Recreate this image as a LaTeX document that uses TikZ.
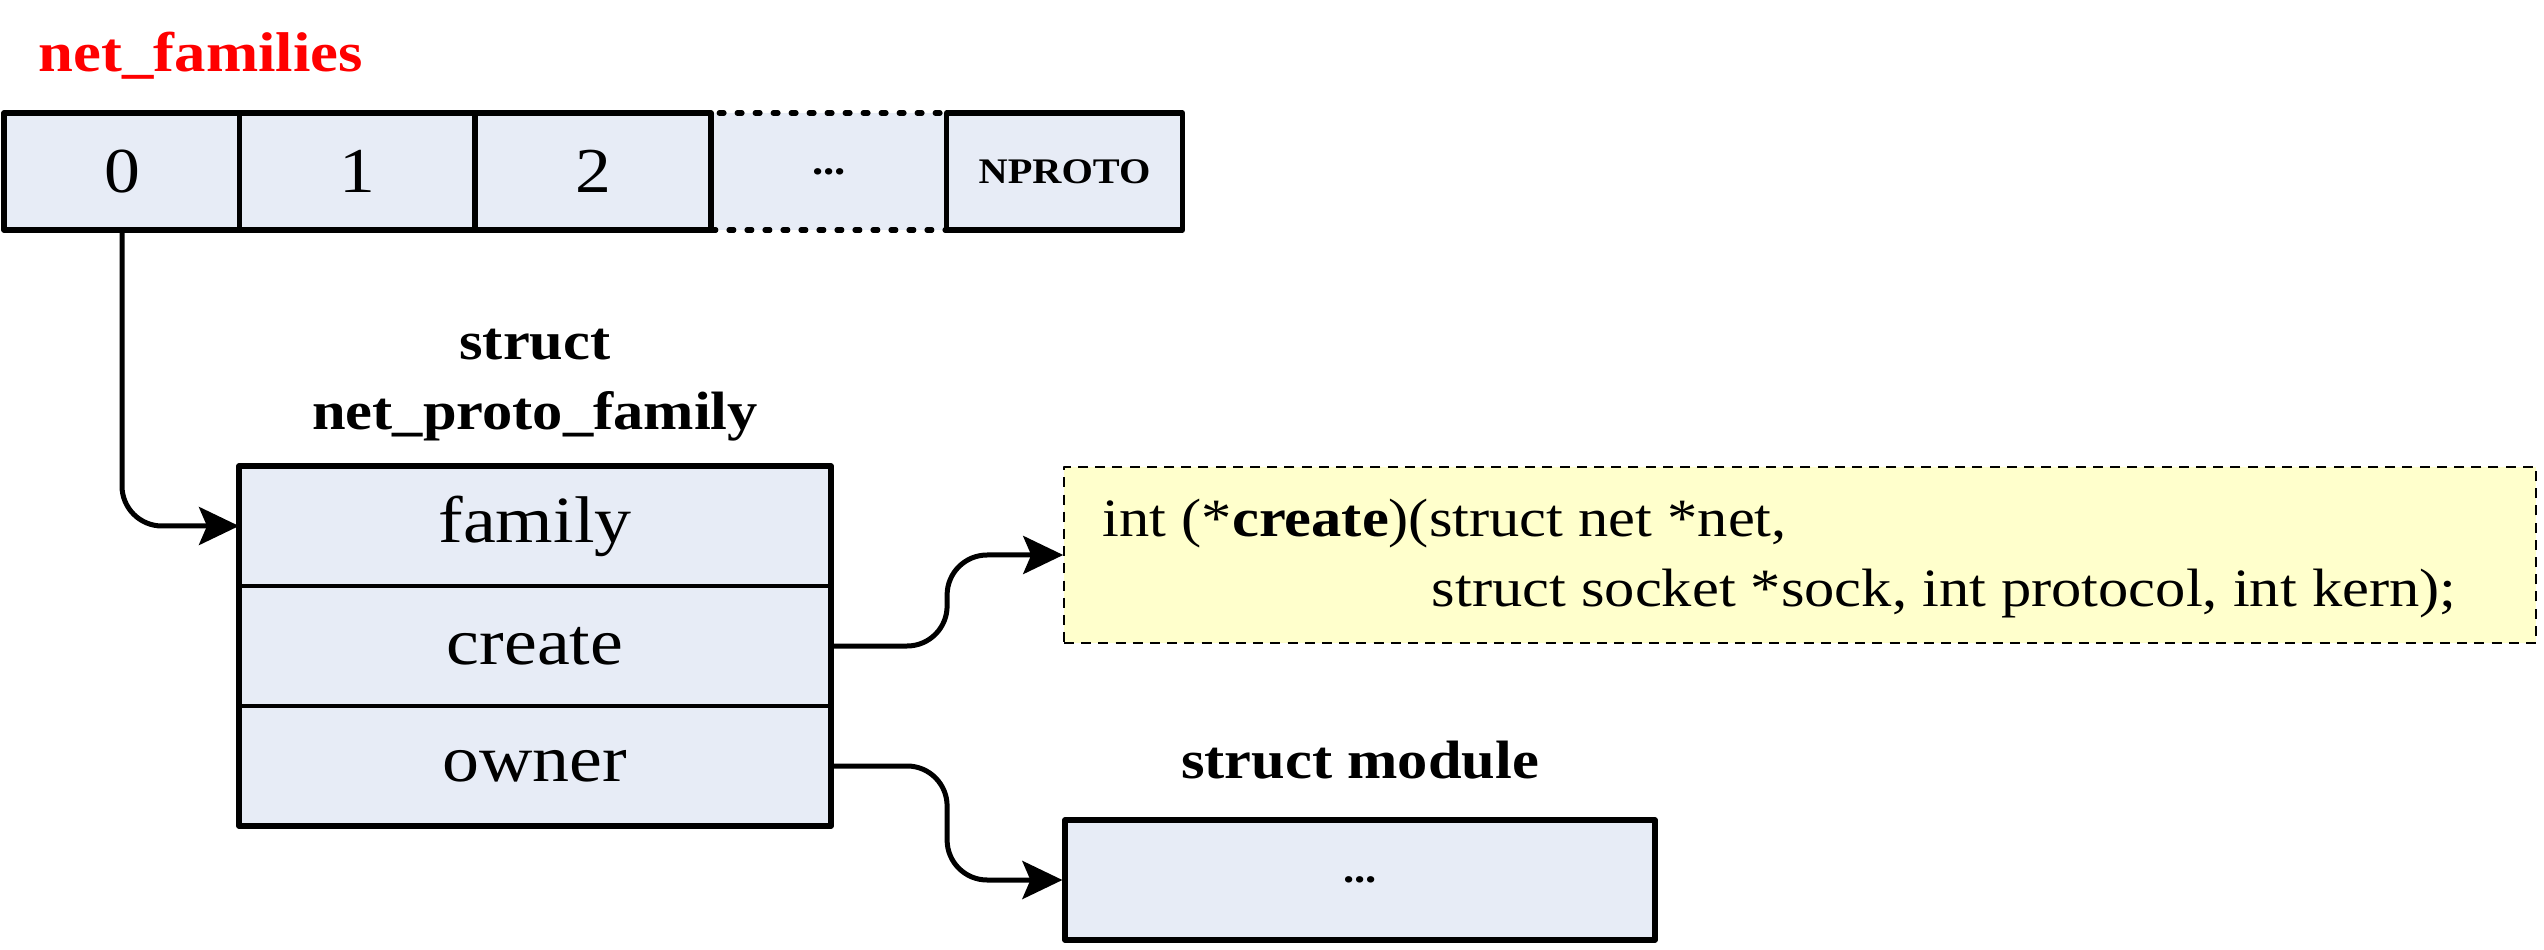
\documentclass[tikz,border=0pt]{standalone}
\usepackage{fontspec}
\setmainfont{Liberation Serif}[FakeStretch=1.12]
\usetikzlibrary{arrows.meta,calc,positioning}
\definecolor{cellblue}{RGB}{231,236,246}
\definecolor{codeyellow}{RGB}{255,255,204}
\begin{document}
\begin{tikzpicture}[x=0.25pt,y=-0.25pt,line join=round,>={Stealth[length=10pt,width=9.5pt,inset=2pt]},
	cell/.style={draw,line width=1.3pt,fill=cellblue,minimum width=59pt,minimum height=29.25pt,inner sep=0pt,font=\fontsize{16}{19}\selectfont},
	dotcell/.style={cell,dash pattern=on 1.2pt off 3.3pt,line cap=round,font=\fontsize{10}{12}\selectfont\bfseries},
	field/.style={draw,line width=0.5pt,fill=cellblue,minimum width=147.5pt,minimum height=29.5pt,inner sep=0pt,font=\fontsize{16.5}{19}\selectfont},
	lbl/.style={inner sep=0pt,font=\fontsize{13.5}{16}\selectfont\bfseries},
	codetxt/.style={inner sep=0pt,font=\fontsize{13.5}{16}\selectfont},
	conn/.style={->,line width=1.25pt,rounded corners=10pt}]
	\useasboundingbox (0,0) rectangle (2544,950);
	\node[lbl,anchor=base west,text=red,font=\fontsize{14}{16}\selectfont\bfseries] (title) at (38,72) {net\_families};
	\node[dotcell] (cdots) at (829,171.5) {...};
	\node[cell] (c0) at (122,171.5) {0};
	\node[cell] (c1) at (357.5,171.5) {1};
	\node[cell] (c2) at (593,171.5) {2};
	\node[cell,font=\fontsize{9}{11}\selectfont\bfseries] (cN) at (1064.5,171.5) {NPROTO};
	\node[lbl,anchor=base] (pfkw) at (535,360) {struct};
	\node[lbl,anchor=base] (pfname) at (535,430) {net\_proto\_family};
	\node[field] (family) at (535,526) {family};
	\node[field,below=0pt of family] (create) {create};
	\node[field,below=0pt of create] (owner) {owner};
	\draw[line width=1.3pt] (family.north west) rectangle (owner.south east);
	\node[draw,line width=0.4pt,dash pattern=on 2.5pt off 1.8pt,fill=codeyellow,minimum width=368pt,minimum height=44pt] (code) at (1800,555) {};
	\node[codetxt,anchor=base west] (codea) at (1102,537) {int (*\textbf{create})(struct net *net,};
	\node[codetxt,anchor=base west] (codeb) at (1431,607) {struct socket *sock, int protocol, int kern);};
	\node[lbl,anchor=base] (modlbl) at (1360,778) {struct module};
	\node[cell,minimum width=147.5pt,minimum height=30pt,font=\fontsize{10}{12}\selectfont\bfseries] (module) at (1360,880) {...};
	\coordinate (bend) at ($(create.east)!.5!(code.west)$);
	\draw[conn] (c0.south) |- (family.west);
	\draw[conn] (create.east) -| (bend |- code.west) -- (code.west);
	\draw[conn] (owner.east) -| (bend |- module.west) -- (module.west);
\end{tikzpicture}
\end{document}
